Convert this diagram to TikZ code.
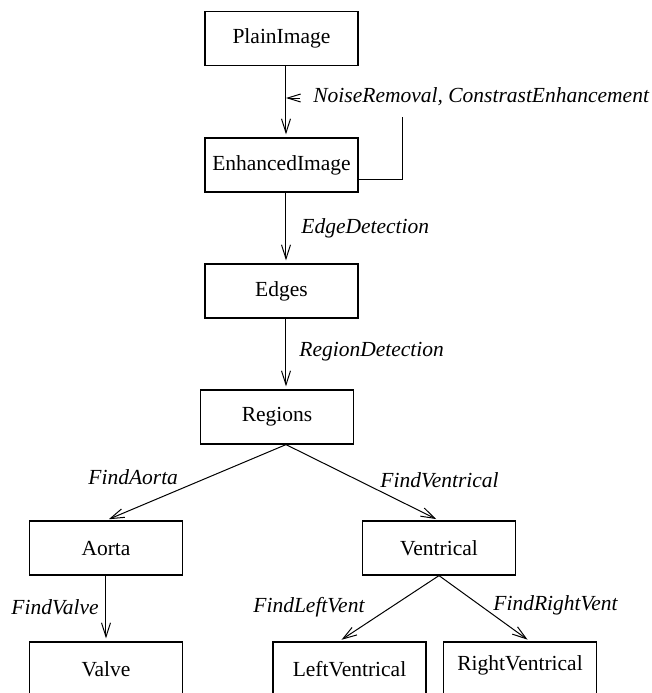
\documentclass[tikz,border=0pt]{standalone}
\usepackage{fontspec}
\setmainfont{Liberation Serif}
\usetikzlibrary{arrows.meta}
\begin{document}
\begin{tikzpicture}[x=0.5pt,y=-0.5pt,
  every node/.style={font=\fontsize{10.75}{13}\selectfont},
  box/.style={draw,line width=0.6pt,minimum width=76.5pt,minimum height=27pt,inner sep=0pt},
  lbl/.style={anchor=west,inner sep=0pt,font=\fontsize{10.75}{13}\selectfont\itshape},
  arr/.style={line width=0.5pt,-{Straight Barb[length=7pt,width=4.5pt]},shorten >=1.5pt},
  conn/.style={line width=0.5pt}]
\clip (0,0) rectangle (652,693);
\fill[white] (0,0) rectangle (652,693);
\coordinate (ax) at (286,0);
\node[box] (P) at (281.5,38.5) {PlainImage};
\node[box] (E) at (281.5,165) {EnhancedImage};
\node[box] (D) at (281.5,291) {Edges};
\node[box] (R) at (277,417) {Regions};
\node[box] (A) at (106,548) {Aorta};
\node[box] (V) at (439,548) {Ventrical};
\node[box] (Va) at (106,669) {Valve};
\node[box] (LV) at (349.5,669) {LeftVentrical};
\node[box,text depth=6pt] (RV) at (520,669) {RightVentrical};

\draw[arr] (P.south -| ax) -- (E.north -| ax);
\draw[arr] (E.south -| ax) -- (D.north -| ax);
\draw[arr] (D.south -| ax) -- (R.north -| ax);
\draw[arr] (R.south -| ax) -- (A.north);
\draw[arr] (R.south -| ax) -- (V.north);
\draw[arr] (A.south) -- (Va.north);
\draw[arr] (V.south) -- ([xshift=-5.25pt]LV.north);
\draw[arr] (V.south) -- ([xshift=5pt]RV.north);

\node[lbl] (nr) at (313,97) {NoiseRemoval, ConstrastEnhancement};
\coordinate (bend) at (403,179);
\coordinate (top) at (403,117);
\draw[conn] (E.east |- bend) -- (bend) -- (top);
\coordinate (nrtail) at (300,98);
\draw[line width=0.5pt,-{Straight Barb[length=6.5pt,width=4pt]}] (nrtail) -- (nrtail -| ax);

\node[lbl] (l1) at (301,228) {EdgeDetection};
\node[lbl] (l2) at (299,352) {RegionDetection};
\node[lbl] (l3) at (88,477) {FindAorta};
\node[lbl] (l4) at (380,480) {FindVentrical};
\node[lbl] (l5) at (11,607) {FindValve};
\node[lbl] (l6) at (253,607) {FindLeftVent};
\node[lbl] (l7) at (493,605) {FindRightVent};
\end{tikzpicture}
\end{document}
